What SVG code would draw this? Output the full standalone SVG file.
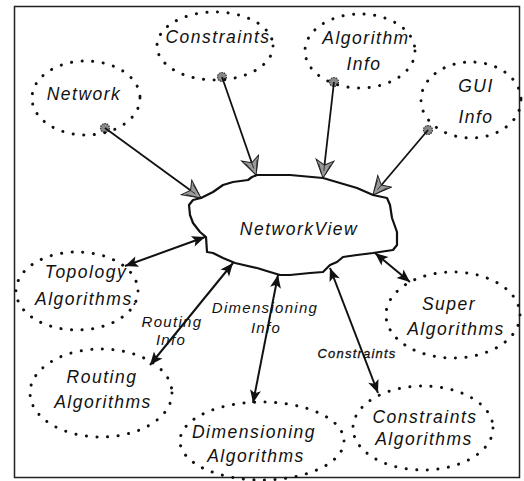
<svg xmlns="http://www.w3.org/2000/svg" width="524" height="481" viewBox="0 0 524 481">
<style>
.bg{fill:#fff}
.frame{fill:none;stroke:#222;stroke-width:1.5}
.dot{fill:none;stroke:#111;stroke-width:3;stroke-dasharray:0.1 10.5;stroke-linecap:round}
.t{font-family:"Liberation Sans",Arial,sans-serif;font-style:italic;font-size:17.5px;letter-spacing:1.5px;fill:#111;text-anchor:middle}
.lbl{font-family:"Liberation Sans",Arial,sans-serif;font-style:italic;font-size:15px;letter-spacing:1.3px;fill:#111;text-anchor:middle}
.sm{font-family:"Liberation Sans",Arial,sans-serif;font-style:italic;font-size:13px;letter-spacing:1.2px;fill:#111;stroke:#111;stroke-width:0.3;text-anchor:middle}
.cloud{fill:#fff;stroke:#111;stroke-width:2.2;stroke-linejoin:round}
.in{fill:none;stroke:#111;stroke-width:1.8;marker-end:url(#gray)}
.bi{fill:none;stroke:#111;stroke-width:2;marker-start:url(#blk);marker-end:url(#blk)}
.src{fill:#888;stroke:#333;stroke-width:1.2;stroke-dasharray:1.5 1}
</style>
<defs>
<marker id="gray" viewBox="-19 -10 21 20" refX="0" refY="0" markerWidth="21" markerHeight="20" markerUnits="userSpaceOnUse" orient="auto">
<path d="M0,0 L-18,-9 L-13,0 L-18,9 Z" fill="#999" stroke="#222" stroke-width="1"/>
<path d="M-4,-2 L-14,-6 M-4,2 L-14,6 M-7,0 L-15,0" stroke="#222" stroke-width="0.8"/>
</marker>
<marker id="blk" viewBox="-14 -6 15 12" refX="0" refY="0" markerWidth="15" markerHeight="12" markerUnits="userSpaceOnUse" orient="auto-start-reverse">
<path d="M0,0 L-13,-5.5 L-10,0 L-13,5.5 Z" fill="#111"/>
</marker>
</defs>
<rect class="bg" x="0" y="0" width="524" height="481"/>
<rect class="frame" x="14.5" y="6.5" width="505" height="471"/>

<g id="connectors">
<circle class="src" cx="105" cy="128" r="4.5"/>
<line class="in" x1="105" y1="128" x2="201" y2="198"/>
<circle class="src" cx="222" cy="77" r="4.5"/>
<line class="in" x1="222" y1="77" x2="256" y2="175"/>
<circle class="src" cx="334" cy="82" r="4.5"/>
<line class="in" x1="334" y1="82" x2="323" y2="178"/>
<circle class="src" cx="428" cy="130" r="4.5"/>
<line class="in" x1="428" y1="130" x2="373" y2="195"/>
<line class="bi" x1="125" y1="266" x2="205" y2="237"/>
<line class="bi" x1="150" y1="365" x2="233" y2="263"/>
<line class="bi" x1="253" y1="403" x2="278" y2="275"/>
<line class="bi" x1="378" y1="393" x2="330" y2="268"/>
<line class="bi" x1="410" y1="282" x2="375" y2="253"/>
<text class="lbl" x="172" y="327">Routing</text>
<text class="lbl" x="171" y="345">Info</text>
<text class="lbl" x="265" y="313">Dimensioning</text>
<text class="lbl" x="266" y="333">Info</text>
<text class="sm" x="357" y="358">Constraints</text>
</g>

<g id="networkview">
<path class="cloud" d="M201,198 L213,192 L223,185 L233,182 L248,180 L252,177 L257,175 L290,175 L323,178 L357,188 L373,195 L387,198 L390,205 L392,218 L397,232 L397,245 L393,250 L373,253 L357,255 L343,257 L337,262 L330,265 L323,272 L310,273 L290,275 L280,275 L270,272 L257,268 L235,263 L223,258 L213,253 L207,252 L206,237 L200,232 L193,223 L190,215 L189,205 L193,200 Z"/>
<text class="t" x="299" y="235">NetworkView</text>
</g>

<g id="network">
<ellipse class="dot" cx="86" cy="98" rx="54" ry="37"/>
<text class="t" x="84" y="100">Network</text>
</g>
<g id="constraints">
<ellipse class="dot" cx="215" cy="46" rx="58" ry="34"/>
<text class="t" x="218" y="43">Constraints</text>
</g>
<g id="algorithm-info">
<ellipse class="dot" cx="360" cy="51" rx="55" ry="37"/>
<text class="t" x="366" y="44">Algorithm</text>
<text class="t" x="364" y="70">Info</text>
</g>
<g id="gui-info">
<ellipse class="dot" cx="471" cy="100" rx="50" ry="38"/>
<text class="t" x="476" y="92">GUI</text>
<text class="t" x="476" y="123">Info</text>
</g>
<g id="topology-algorithms">
<ellipse class="dot" cx="77" cy="291" rx="61" ry="39"/>
<text class="t" x="86" y="278">Topology</text>
<text class="t" x="87" y="305">Algorithms.</text>
</g>
<g id="routing-algorithms">
<ellipse class="dot" cx="101" cy="393" rx="71" ry="44"/>
<text class="t" x="102" y="383">Routing</text>
<text class="t" x="103" y="408">Algorithms</text>
</g>
<g id="dimensioning-algorithms">
<ellipse class="dot" cx="262" cy="441" rx="82" ry="39"/>
<text class="t" x="254" y="438">Dimensioning</text>
<text class="t" x="256" y="462">Algorithms</text>
</g>
<g id="constraints-algorithms">
<ellipse class="dot" cx="423" cy="428" rx="70" ry="42"/>
<text class="t" x="425" y="423">Constraints</text>
<text class="t" x="424" y="445">Algorithms</text>
</g>
<g id="super-algorithms">
<ellipse class="dot" cx="453" cy="315" rx="67" ry="43"/>
<text class="t" x="449" y="310">Super</text>
<text class="t" x="456" y="335">Algorithms</text>
</g>
</svg>
